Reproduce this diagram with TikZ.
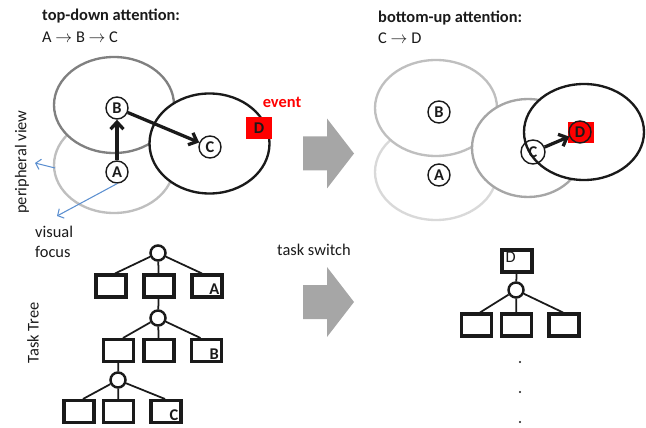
\documentclass[tikz,border=0pt]{standalone}
\usepackage{fontspec}
\setmainfont{Carlito}
\usepackage{tikz}
\usetikzlibrary{calc,arrows.meta}
\definecolor{txt}{HTML}{1A1A1A}
\definecolor{ringdark}{HTML}{808080}
\definecolor{ringmid}{HTML}{A6A6A6}
\definecolor{ringlight}{HTML}{BFBFBF}
\definecolor{ringpale}{HTML}{D9D9D9}
\definecolor{evred}{HTML}{FF0000}
\definecolor{focusblue}{HTML}{5B8FD0}
\definecolor{shaft}{HTML}{A6A6A6}
\newcommand{\diagfont}{\fontsize{14}{17}\selectfont}
\tikzset{
  ring/.style={line width=2pt, fill=white},
  tok/.style={circle, draw=txt, line width=1.2pt, fill=white, minimum size=0.66cm, inner sep=0pt, font=\diagfont\bfseries},
  move/.style={draw=txt, line width=2.8pt, -{Straight Barb[length=6pt,width=11pt]}},
  look/.style={draw=focusblue, line width=0.9pt, -{Straight Barb[length=4pt,width=9pt]}},
  evbox/.style={fill=evred, minimum width=0.78cm, minimum height=0.64cm, inner sep=0pt, font=\diagfont\bfseries},
  tbox/.style={draw=txt, line width=2.6pt, minimum width=0.9cm, minimum height=0.66cm, inner sep=0pt},
  tjoin/.style={circle, draw=txt, line width=2.1pt, minimum size=0.45cm, inner sep=0pt},
  tedge/.style={draw=txt, line width=1.5pt},
  lab/.style={font=\diagfont\bfseries, inner sep=0pt, anchor=south east},
  head/.style={font=\diagfont\bfseries, anchor=west, inner sep=0pt},
  every node/.style={text=txt, font=\diagfont}
}

\begin{document}
\begin{tikzpicture}[x=0.03cm, y=-0.03cm]
  \useasboundingbox (0,0) rectangle (646,428);

  \node[head] (tdtitle) at (42,16) {top-down attention:};
  \node[anchor=west, inner sep=0pt] (tdseq) at (42,37) {A $\rightarrow$ B $\rightarrow$ C};

  \draw[ring, draw=ringlight] (114,165) ellipse [x radius=60, y radius=48];
  \draw[ring, draw=ringdark] (114,105) ellipse [x radius=60, y radius=48];
  \draw[ring, draw=txt] (209.5,143.5) ellipse [x radius=60, y radius=50];

  \node[tok] (tA) at (117,172) {A};
  \node[tok] (tB) at (117,108) {B};
  \node[tok] (tC) at (210,147) {C};
  \node[evbox] (lD) at (259,128) {D};
  \node[text=evred, font=\diagfont\bfseries] (ev) at (282,102) {event};

  \draw[move] (tA) -- (tB);
  \draw[move] (tB) -- (tC);

  \node[rotate=90] (pview) at (22,162) {peripheral view};
  \node[anchor=west, align=left, inner sep=0pt] (vfocus) at (35,242) {visual\\focus};
  \coordinate (pvs) at (55,168);
  \coordinate (pv) at (35,163);
  \coordinate (vf) at (57,216);
  \draw[look] (pvs) -- (pv);
  \draw[look] (tA.south) -- (vf);

  \foreach \yc in {153.5,302}
    \fill[shaft] (303,\yc-17) -- (327,\yc-17) -- (327,\yc-35) -- (354,\yc)
      -- (327,\yc+35) -- (327,\yc+17) -- (303,\yc+17) -- cycle;
  \node[anchor=west, inner sep=0pt] (tswitch) at (277,250) {task switch};

  \node[head] (butitle) at (378,18) {bottom-up attention:};
  \node[anchor=west, inner sep=0pt] (buseq) at (378,38) {C $\rightarrow$ D};

  \draw[ring, draw=ringpale] (436,172) ellipse [x radius=61, y radius=48];
  \draw[ring, draw=ringlight] (436,108) ellipse [x radius=61, y radius=48];
  \draw[ring, draw=ringmid] (528,148) ellipse [x radius=56, y radius=49];
  \draw[ring, draw=txt] (584,132) ellipse [x radius=60, y radius=48];

  \node[tok] (rA) at (439,175) {A};
  \node[tok] (rB) at (439,112) {B};
  \node[tok, fill=none, minimum size=0.72cm] (rC) at (533,152) {C};
  \node[evbox, minimum height=0.62cm] (rDbox) at (581,132.5) {};
  \node[tok, fill=evred] (rD) at (580,132) {D};
  \draw[move] (rC) -- (rD);

  \node[rotate=90] (ttree) at (33,333) {Task Tree};

  \node[tjoin] (lj1) at (158,253) {};
  \node[tbox] (l1a) at (111,286) {};
  \node[tbox] (l1b) at (159,286) {};
  \node[tbox] (l1c) at (207,286) {};
  \node[lab] at ($(l1c.south east)+(-4,-4)$) {A};
  \draw[tedge] (lj1) -- ($(l1a.north)+(4,0)$);
  \draw[tedge] (lj1) -- (l1b);
  \draw[tedge] (lj1) -- ($(l1c.north)+(-5,0)$);

  \node[tjoin] (lj2) at (158,318) {};
  \draw[tedge] (l1b) -- (lj2);
  \node[tbox] (l2a) at (118.5,350.5) {};
  \node[tbox] (l2b) at (159,350.5) {};
  \node[tbox] (l2c) at (206.5,350.5) {};
  \node[lab] at ($(l2c.south east)+(-4,-3)$) {B};
  \draw[tedge] (lj2) -- ($(l2a.north)+(4.5,0)$);
  \draw[tedge] (lj2) -- (l2b);
  \draw[tedge] (lj2) -- ($(l2c.north)+(-6,0)$);

  \node[tjoin] (lj3) at (118,380) {};
  \draw[tedge] (l2a) -- (lj3);
  \node[tbox] (l3a) at (79,411.5) {};
  \node[tbox] (l3b) at (118.5,411.5) {};
  \node[tbox] (l3c) at (166,411.5) {};
  \node[lab] at ($(l3c.south east)+(-4,-3)$) {C};
  \draw[tedge] (lj3) -- ($(l3a.north)+(4,0)$);
  \draw[tedge] (lj3) -- (l3b);
  \draw[tedge] (lj3) -- ($(l3c.north)+(-1,0)$);

  \node[tbox] (rtop) at (517,261) {};
  \node[anchor=north west, inner sep=0pt] at ($(rtop.north west)+(5,3)$) {D};
  \node[tjoin] (rj) at (516,290) {};
  \draw[tedge] (rtop) -- (rj);
  \node[tbox] (r1a) at (476.5,325) {};
  \node[tbox] (r1b) at (516.5,325) {};
  \node[tbox] (r1c) at (564,325) {};
  \draw[tedge] (rj) -- ($(r1a.north)+(3.5,0)$);
  \draw[tedge] (rj) -- (r1b);
  \draw[tedge] (rj) -- ($(r1c.north)+(-1,0)$);

  \foreach \yd in {362,392,422}
    \fill[txt] (520,\yd) circle (1.1);
\end{tikzpicture}
\end{document}
